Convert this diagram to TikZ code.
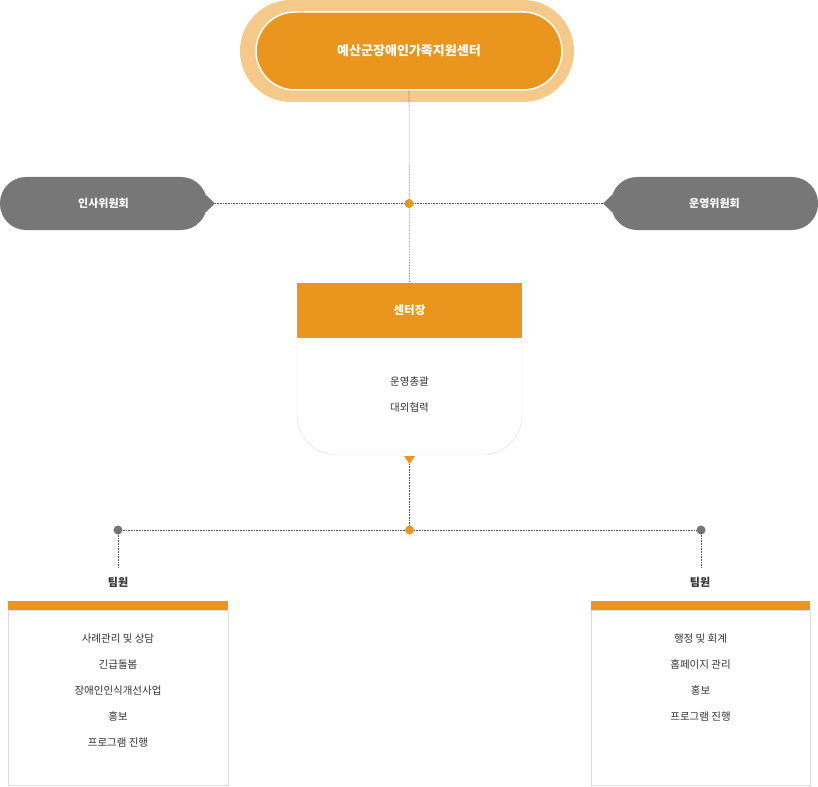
\documentclass[tikz,border=0pt]{standalone}
\usepackage{fontspec}
\setmainfont{Noto Sans CJK KR}
\usetikzlibrary{positioning}
\definecolor{orgmain}{HTML}{EA961E}
\definecolor{orglight}{HTML}{F5C98A}
\definecolor{grayfill}{HTML}{777777}
\definecolor{lineg}{HTML}{555555}
\definecolor{boxline}{HTML}{DDDDDD}
\tikzset{
  dotline/.style={lineg, densely dotted, line width=0.6pt},
  pillbox/.style={fill=grayfill, rounded corners=26pt, minimum width=207pt, minimum height=53pt,
    text=white, font=\bfseries\fontsize{11pt}{13pt}\selectfont},
  teamhead/.style={font=\bfseries\fontsize{11pt}{13pt}\selectfont, text=black!80},
  bodytext/.style={font=\fontsize{10.5pt}{26pt}\selectfont, text=black!80, align=center}
}
\begin{document}
\begin{tikzpicture}[x=1pt,y=-1pt]
\useasboundingbox (0,0) rectangle (818,786);
% top
\fill[orglight, rounded corners=51pt] (240,0) rectangle (574,102);
\node[fill=orgmain, draw=white, line width=1.5pt, rounded corners=39pt, minimum width=306pt, minimum height=78pt,
  text=white, font=\bfseries\fontsize{13pt}{15pt}\selectfont] (center) at (409,51) {예산군장애인가족지원센터};
% committees
\node[pillbox] (hr) at (103.5,203.5) {인사위원회};
\node[pillbox] (op) at (714.5,203.5) {운영위원회};
\fill[grayfill] (206,195) -- (215,203.5) -- (206,212) -- cycle;
\fill[grayfill] (612,195) -- (603,203.5) -- (612,212) -- cycle;
\coordinate (hub) at (409,203.5);
\coordinate (hrtip) at (215,203.5);
\coordinate (optip) at (603,203.5);
% director
\node[fill=orgmain, minimum width=225pt, minimum height=55pt, text=white,
  font=\bfseries\fontsize{11.5pt}{13pt}\selectfont] (head) at (409.5,310.5) {센터장};
\draw[boxline, fill=white] (297,338) -- (522,338) [rounded corners=40pt] -- (522,455) -- (297,455) [sharp corners] -- (297,338) -- cycle;
\node[bodytext] (duty) at (409.5,395) {운영총괄\\대외협력};
\fill[orgmain] (404,456) -- (415,456) -- (409.5,464) -- cycle;
\coordinate (headbot) at (409.5,464);
\draw[dotline] (center.south) -- (head.north);
\draw[dotline] (hrtip) -- (optip);
\fill[orgmain] (hub) circle (4.5pt);
% teams
\coordinate (split) at (409.5,530);
\coordinate (lt) at (118,530);
\coordinate (rt) at (701,530);
\draw[dotline] (headbot) -- (split);
\draw[dotline] (lt) -- (rt);
\fill[orgmain] (split) circle (4.5pt);
\fill[grayfill] (lt) circle (4.5pt);
\fill[grayfill] (rt) circle (4.5pt);
\node[teamhead] (lteam) at (118,582) {팀원};
\node[teamhead] (rteam) at (700,582) {팀원};
\draw[dotline] (lt) -- (118,568);
\draw[dotline] (rt) -- (701,568);
\fill[orgmain] (8,601) rectangle (228,610);
\draw[boxline, fill=white] (8,610) rectangle (228,785);
\fill[orgmain] (591,601) rectangle (810,610);
\draw[boxline, fill=white] (591,610) rectangle (810,785);
\node[bodytext, anchor=north] (ltask) at (118,630) {사례관리 및 상담\\긴급돌봄\\장애인인식개선사업\\홍보\\프로그램 진행};
\node[bodytext, anchor=north] (rtask) at (700.5,630) {행정 및 회계\\홈페이지 관리\\홍보\\프로그램 진행};
\end{tikzpicture}
\end{document}
